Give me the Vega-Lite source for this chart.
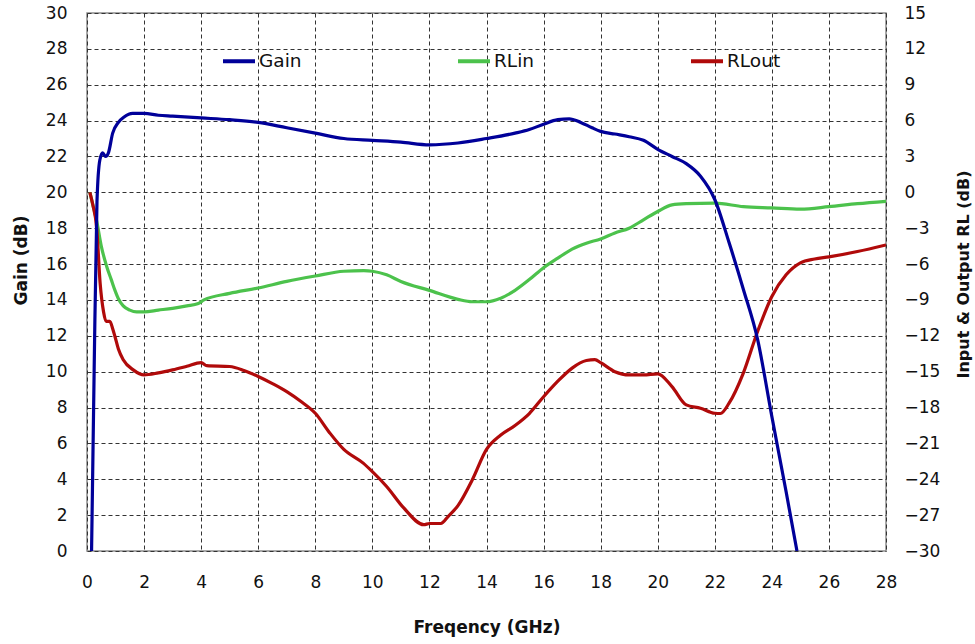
{
  "$schema": "https://vega.github.io/schema/vega-lite/v6.json",
  "width": 799,
  "height": 538,
  "autosize": "none",
  "padding": {"left": 87, "top": 13, "right": 89, "bottom": 93},
  "background": "white",
  "config": {
    "font": "DejaVu Sans",
    "view": {"stroke": "#8c8c8c", "strokeWidth": 1.5},
    "axis": {
      "labelFont": "DejaVu Sans",
      "titleFont": "DejaVu Sans",
      "labelFontSize": 17,
      "titleFontSize": 17,
      "labelColor": "#111",
      "titleColor": "#111",
      "titleFontWeight": "bold",
      "ticks": false,
      "domain": false,
      "gridColor": "#333",
      "gridDash": [4, 3],
      "gridWidth": 1
    },
    "legend": {"labelFont": "DejaVu Sans"}
  },
  "data": {
    "values": [
      {"f": 0.16, "v": 0, "s": "Gain"},
      {"f": 0.25, "v": 10, "s": "Gain"},
      {"f": 0.35, "v": 19.5, "s": "Gain"},
      {"f": 0.45, "v": 21.8, "s": "Gain"},
      {"f": 0.55, "v": 22.2, "s": "Gain"},
      {"f": 0.65, "v": 22.0, "s": "Gain"},
      {"f": 0.75, "v": 22.2, "s": "Gain"},
      {"f": 0.9, "v": 23.3, "s": "Gain"},
      {"f": 1.1, "v": 23.9, "s": "Gain"},
      {"f": 1.3, "v": 24.2, "s": "Gain"},
      {"f": 1.6, "v": 24.4, "s": "Gain"},
      {"f": 2.0, "v": 24.4, "s": "Gain"},
      {"f": 2.5, "v": 24.3, "s": "Gain"},
      {"f": 3, "v": 24.25, "s": "Gain"},
      {"f": 4, "v": 24.15, "s": "Gain"},
      {"f": 5, "v": 24.05, "s": "Gain"},
      {"f": 6, "v": 23.9, "s": "Gain"},
      {"f": 7, "v": 23.6, "s": "Gain"},
      {"f": 8, "v": 23.3, "s": "Gain"},
      {"f": 9, "v": 23.0, "s": "Gain"},
      {"f": 10, "v": 22.9, "s": "Gain"},
      {"f": 11, "v": 22.8, "s": "Gain"},
      {"f": 12, "v": 22.65, "s": "Gain"},
      {"f": 13, "v": 22.75, "s": "Gain"},
      {"f": 14, "v": 23.0, "s": "Gain"},
      {"f": 15, "v": 23.3, "s": "Gain"},
      {"f": 15.5, "v": 23.5, "s": "Gain"},
      {"f": 16, "v": 23.8, "s": "Gain"},
      {"f": 16.5, "v": 24.05, "s": "Gain"},
      {"f": 16.9, "v": 24.1, "s": "Gain"},
      {"f": 17.3, "v": 23.9, "s": "Gain"},
      {"f": 17.7, "v": 23.6, "s": "Gain"},
      {"f": 18, "v": 23.4, "s": "Gain"},
      {"f": 18.5, "v": 23.25, "s": "Gain"},
      {"f": 19, "v": 23.1, "s": "Gain"},
      {"f": 19.5, "v": 22.9, "s": "Gain"},
      {"f": 20, "v": 22.4, "s": "Gain"},
      {"f": 20.5, "v": 22.0, "s": "Gain"},
      {"f": 21, "v": 21.6, "s": "Gain"},
      {"f": 21.5, "v": 20.9, "s": "Gain"},
      {"f": 22, "v": 19.6, "s": "Gain"},
      {"f": 22.5, "v": 17.2, "s": "Gain"},
      {"f": 23, "v": 14.6, "s": "Gain"},
      {"f": 23.5, "v": 11.8, "s": "Gain"},
      {"f": 24, "v": 7.5, "s": "Gain"},
      {"f": 24.5, "v": 3.3, "s": "Gain"},
      {"f": 24.88, "v": 0, "s": "Gain"},

      {"f": 0.1, "v": 0, "s": "RLin"},
      {"f": 0.2, "v": -1.0, "s": "RLin"},
      {"f": 0.34, "v": -2.4, "s": "RLin"},
      {"f": 0.5, "v": -4.5, "s": "RLin"},
      {"f": 0.69, "v": -6.2, "s": "RLin"},
      {"f": 0.85, "v": -7.3, "s": "RLin"},
      {"f": 0.98, "v": -8.2, "s": "RLin"},
      {"f": 1.1, "v": -8.9, "s": "RLin"},
      {"f": 1.27, "v": -9.5, "s": "RLin"},
      {"f": 1.5, "v": -9.85, "s": "RLin"},
      {"f": 1.74, "v": -10.0, "s": "RLin"},
      {"f": 2, "v": -10.0, "s": "RLin"},
      {"f": 2.5, "v": -9.85, "s": "RLin"},
      {"f": 3, "v": -9.7, "s": "RLin"},
      {"f": 3.5, "v": -9.5, "s": "RLin"},
      {"f": 3.9, "v": -9.3, "s": "RLin"},
      {"f": 4.1, "v": -9.0, "s": "RLin"},
      {"f": 5, "v": -8.45, "s": "RLin"},
      {"f": 6, "v": -8.0, "s": "RLin"},
      {"f": 7, "v": -7.45, "s": "RLin"},
      {"f": 8, "v": -7.0, "s": "RLin"},
      {"f": 9, "v": -6.6, "s": "RLin"},
      {"f": 9.7, "v": -6.55, "s": "RLin"},
      {"f": 10, "v": -6.6, "s": "RLin"},
      {"f": 10.5, "v": -6.9, "s": "RLin"},
      {"f": 11, "v": -7.45, "s": "RLin"},
      {"f": 12, "v": -8.2, "s": "RLin"},
      {"f": 13, "v": -8.95, "s": "RLin"},
      {"f": 13.5, "v": -9.15, "s": "RLin"},
      {"f": 14, "v": -9.15, "s": "RLin"},
      {"f": 14.5, "v": -8.85, "s": "RLin"},
      {"f": 15, "v": -8.2, "s": "RLin"},
      {"f": 15.5, "v": -7.3, "s": "RLin"},
      {"f": 16, "v": -6.3, "s": "RLin"},
      {"f": 16.5, "v": -5.5, "s": "RLin"},
      {"f": 17, "v": -4.75, "s": "RLin"},
      {"f": 17.5, "v": -4.25, "s": "RLin"},
      {"f": 18, "v": -3.9, "s": "RLin"},
      {"f": 18.5, "v": -3.4, "s": "RLin"},
      {"f": 19, "v": -3.0, "s": "RLin"},
      {"f": 19.5, "v": -2.3, "s": "RLin"},
      {"f": 20, "v": -1.6, "s": "RLin"},
      {"f": 20.5, "v": -1.05, "s": "RLin"},
      {"f": 21, "v": -0.95, "s": "RLin"},
      {"f": 22, "v": -0.9, "s": "RLin"},
      {"f": 23, "v": -1.2, "s": "RLin"},
      {"f": 24, "v": -1.3, "s": "RLin"},
      {"f": 25, "v": -1.4, "s": "RLin"},
      {"f": 26, "v": -1.2, "s": "RLin"},
      {"f": 27, "v": -0.95, "s": "RLin"},
      {"f": 28, "v": -0.75, "s": "RLin"},

      {"f": 0.1, "v": 0, "s": "RLout"},
      {"f": 0.2, "v": -1.0, "s": "RLout"},
      {"f": 0.34, "v": -3.0, "s": "RLout"},
      {"f": 0.46, "v": -7.6, "s": "RLout"},
      {"f": 0.58, "v": -10.0, "s": "RLout"},
      {"f": 0.67, "v": -10.8, "s": "RLout"},
      {"f": 0.8, "v": -10.8, "s": "RLout"},
      {"f": 0.9, "v": -11.4, "s": "RLout"},
      {"f": 0.98, "v": -12.06, "s": "RLout"},
      {"f": 1.1, "v": -13.1, "s": "RLout"},
      {"f": 1.27, "v": -14.0, "s": "RLout"},
      {"f": 1.62, "v": -14.85, "s": "RLout"},
      {"f": 2, "v": -15.27, "s": "RLout"},
      {"f": 2.5, "v": -15.1, "s": "RLout"},
      {"f": 3, "v": -14.85, "s": "RLout"},
      {"f": 3.5, "v": -14.55, "s": "RLout"},
      {"f": 4, "v": -14.24, "s": "RLout"},
      {"f": 4.2, "v": -14.5, "s": "RLout"},
      {"f": 5, "v": -14.57, "s": "RLout"},
      {"f": 5.5, "v": -14.9, "s": "RLout"},
      {"f": 6, "v": -15.4, "s": "RLout"},
      {"f": 6.5, "v": -16.0, "s": "RLout"},
      {"f": 7, "v": -16.67, "s": "RLout"},
      {"f": 7.5, "v": -17.5, "s": "RLout"},
      {"f": 8, "v": -18.48, "s": "RLout"},
      {"f": 8.5, "v": -20.1, "s": "RLout"},
      {"f": 9, "v": -21.5, "s": "RLout"},
      {"f": 9.68, "v": -22.65, "s": "RLout"},
      {"f": 10, "v": -23.36, "s": "RLout"},
      {"f": 10.5, "v": -24.6, "s": "RLout"},
      {"f": 11.1, "v": -26.4, "s": "RLout"},
      {"f": 11.8, "v": -27.8, "s": "RLout"},
      {"f": 12, "v": -27.7, "s": "RLout"},
      {"f": 12.4, "v": -27.7, "s": "RLout"},
      {"f": 12.66, "v": -27.1, "s": "RLout"},
      {"f": 13, "v": -26.2, "s": "RLout"},
      {"f": 13.5, "v": -24.06, "s": "RLout"},
      {"f": 14, "v": -21.5, "s": "RLout"},
      {"f": 14.5, "v": -20.3, "s": "RLout"},
      {"f": 15, "v": -19.5, "s": "RLout"},
      {"f": 15.5, "v": -18.5, "s": "RLout"},
      {"f": 16, "v": -17.1, "s": "RLout"},
      {"f": 16.5, "v": -15.8, "s": "RLout"},
      {"f": 17, "v": -14.7, "s": "RLout"},
      {"f": 17.5, "v": -14.07, "s": "RLout"},
      {"f": 17.8, "v": -14.0, "s": "RLout"},
      {"f": 18, "v": -14.25, "s": "RLout"},
      {"f": 18.5, "v": -15.0, "s": "RLout"},
      {"f": 19, "v": -15.27, "s": "RLout"},
      {"f": 19.5, "v": -15.27, "s": "RLout"},
      {"f": 20, "v": -15.18, "s": "RLout"},
      {"f": 20.5, "v": -16.25, "s": "RLout"},
      {"f": 21, "v": -17.78, "s": "RLout"},
      {"f": 21.5, "v": -18.06, "s": "RLout"},
      {"f": 22, "v": -18.48, "s": "RLout"},
      {"f": 22.2, "v": -18.5, "s": "RLout"},
      {"f": 22.5, "v": -17.64, "s": "RLout"},
      {"f": 23, "v": -15.12, "s": "RLout"},
      {"f": 23.5, "v": -11.64, "s": "RLout"},
      {"f": 24, "v": -8.71, "s": "RLout"},
      {"f": 24.5, "v": -6.9, "s": "RLout"},
      {"f": 25, "v": -5.9, "s": "RLout"},
      {"f": 25.5, "v": -5.58, "s": "RLout"},
      {"f": 26, "v": -5.4, "s": "RLout"},
      {"f": 27, "v": -4.95, "s": "RLout"},
      {"f": 28, "v": -4.4, "s": "RLout"}
    ]
  },
  "encoding": {
    "x": {
      "field": "f",
      "type": "quantitative",
      "scale": {"domain": [0, 28], "nice": false, "zero": false},
      "axis": {
        "title": "Freqency (GHz)",
        "values": [0, 2, 4, 6, 8, 10, 12, 14, 16, 18, 20, 22, 24, 26, 28],
        "labelFlush": false,
        "labelPadding": 23,
        "titlePadding": 29,
        "grid": true
      }
    },
    "color": {
      "field": "s",
      "type": "nominal",
      "scale": {"domain": ["Gain", "RLin", "RLout"], "range": ["#000099", "#4cc24c", "#b00a0a"]},
      "legend": {
        "title": null,
        "orient": "none",
        "direction": "horizontal",
        "legendX": 134,
        "legendY": 30,
        "columnPadding": 148,
        "symbolType": "stroke",
        "symbolSize": 1024,
        "symbolStrokeWidth": 4,
        "labelFontSize": 18.5,
        "labelColor": "#111",
        "labelOffset": 2,
        "padding": 0
      }
    }
  },
  "layer": [
    {
      "transform": [{"filter": "datum.s !== 'Gain'"}],
      "mark": {"type": "line", "strokeWidth": 3.2, "interpolate": "monotone", "clip": true},
      "encoding": {
        "y": {
          "field": "v",
          "type": "quantitative",
          "scale": {"domain": [-30, 15], "nice": false, "zero": false},
          "axis": {
            "orient": "right",
            "title": "Input & Output RL (dB)",
            "titleFontSize": 16,
            "values": [-30, -27, -24, -21, -18, -15, -12, -9, -6, -3, 0, 3, 6, 9, 12, 15],
            "grid": false,
            "labelPadding": 18,
            "titlePadding": 32,
            "titleAngle": 270,
            "titleY": 261
          }
        }
      }
    },
    {
      "transform": [{"filter": "datum.s === 'Gain'"}],
      "mark": {"type": "line", "strokeWidth": 3.2, "interpolate": "monotone", "clip": true},
      "encoding": {
        "y": {
          "field": "v",
          "type": "quantitative",
          "scale": {"domain": [0, 30], "nice": false, "zero": false},
          "axis": {
            "orient": "left",
            "title": "Gain (dB)",
            "values": [0, 2, 4, 6, 8, 10, 12, 14, 16, 18, 20, 22, 24, 26, 28, 30],
            "grid": true,
            "labelPadding": 20,
            "titlePadding": 15,
            "titleY": 247
          }
        }
      }
    }
  ],
  "resolve": {"scale": {"y": "independent"}}
}
